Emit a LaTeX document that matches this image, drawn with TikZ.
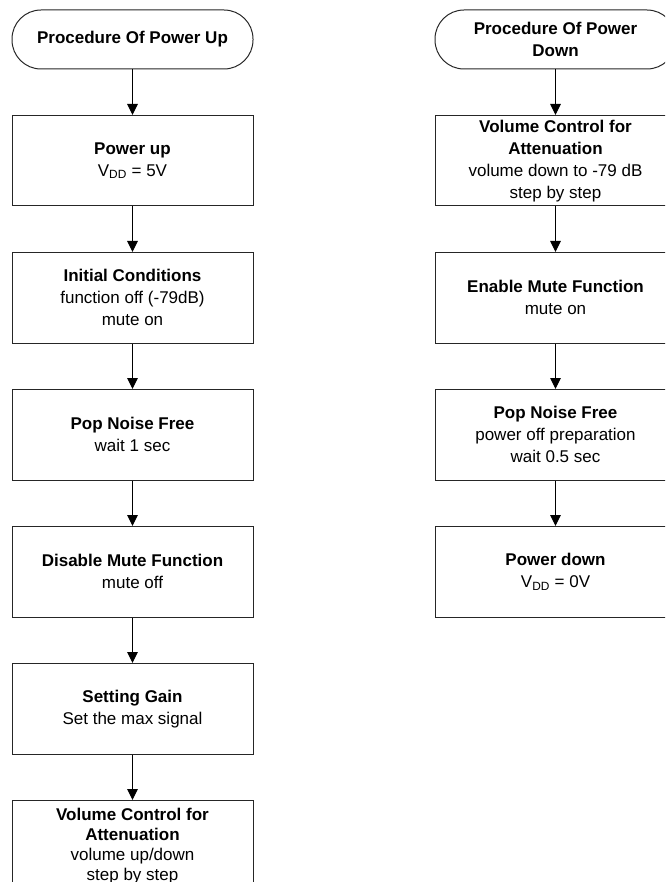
\documentclass[tikz,border=0pt]{standalone}
\usepackage{fontspec}
\setmainfont{Liberation Sans}
\usetikzlibrary{positioning,arrows.meta}

\tikzset{
  boxline/.style={line width=1pt, draw=black!85},
  startstop/.style={boxline, rounded corners=29pt, minimum width=241pt, minimum height=59pt, align=center, inner sep=2pt},
  process/.style={boxline, minimum width=241pt, minimum height=90.5pt, align=center, inner sep=2pt},
  flow/.style={line width=1pt, -{Triangle[width=10.5pt,length=11pt]}},
}

\begin{document}
\begin{tikzpicture}[x=1pt, y=1pt, font=\fontsize{17}{22}\selectfont, node distance=45.5pt]
            \useasboundingbox (0,0) rectangle (665,-882);
            \clip (0,0) rectangle (665,-882);
            % power up
            \node[startstop] (up) at (132.5,-39.5) {\textbf{Procedure Of Power Up}};
            \node[process, below=of up] (pwrup) {\textbf{Power up}\\V\textsubscript{DD} = 5V};
            \node[process, below=of pwrup] (init) {\textbf{Initial Conditions}\\function off (-79dB)\\mute on};
            \node[process, below=of init] (popup) {\textbf{Pop Noise Free}\\wait 1 sec};
            \node[process, below=of popup] (unmute) {\textbf{Disable Mute Function}\\mute off};
            \node[process, below=of unmute] (gain) {\textbf{Setting Gain}\\Set the max signal};
            \node[process, below=of gain, font=\fontsize{17}{20}\selectfont] (volup) {\textbf{Volume Control for}\\\textbf{Attenuation}\\volume up/down\\step by step};
            \draw[flow] (up) -- (pwrup);
            \draw[flow] (pwrup) -- (init);
            \draw[flow] (init) -- (popup);
            \draw[flow] (popup) -- (unmute);
            \draw[flow] (unmute) -- (gain);
            \draw[flow] (gain) -- (volup);
            % power down
            \node[startstop] (down) at (555.5,-39.5) {\textbf{Procedure Of Power}\\\textbf{Down}};
            \node[process, below=of down] (voldown) {\textbf{Volume Control for}\\\textbf{Attenuation}\\volume down to -79 dB\\step by step};
            \node[process, below=of voldown] (mute) {\textbf{Enable Mute Function}\\mute on};
            \node[process, below=of mute] (popdown) {\textbf{Pop Noise Free}\\power off preparation\\wait 0.5 sec};
            \node[process, below=of popdown] (pwrdown) {\textbf{Power down}\\V\textsubscript{DD} = 0V};
            \draw[flow] (down) -- (voldown);
            \draw[flow] (voldown) -- (mute);
            \draw[flow] (mute) -- (popdown);
            \draw[flow] (popdown) -- (pwrdown);
          \end{tikzpicture}
\end{document}
